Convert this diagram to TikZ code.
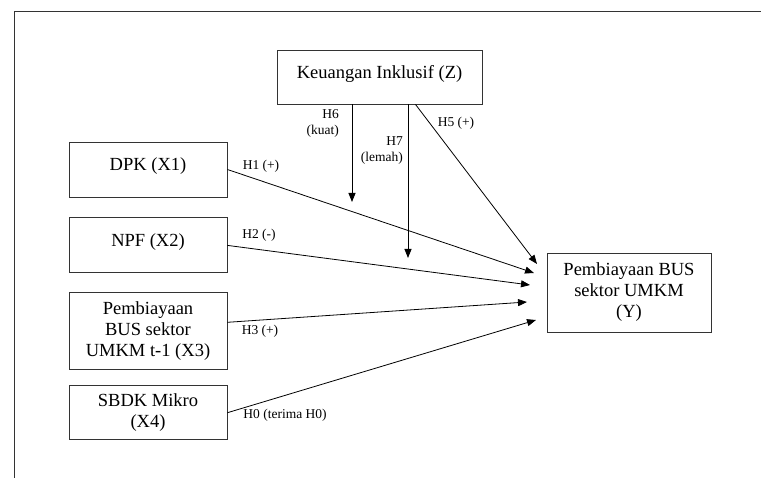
\documentclass[tikz,border=0pt]{standalone}
\usepackage{fontspec}
\setmainfont{Liberation Serif}
\usetikzlibrary{arrows.meta, positioning, calc}

\begin{document}
\begin{tikzpicture}[
  x=1pt, y=-1pt,
  varbox/.style={rectangle, draw=black!80, line width=0.9pt,
                 minimum width=158pt, minimum height=55pt,
                 align=center, font=\fontsize{18.5}{21}\selectfont},
  oneline/.style={text depth=10pt},
  hyp/.style={font=\fontsize{13.5}{16}\selectfont, inner sep=0pt},
  arr/.style={-{Triangle[length=9pt, width=7pt]}, line width=0.8pt}
]
\useasboundingbox (0,0) rectangle (761,478);
\draw[line width=1pt, black!80] (761,12) -- (14,12) -- (14,478);

\node[varbox, oneline, minimum width=205pt, minimum height=54pt] (z) at (379.5,77) {Keuangan Inklusif (Z)};
\node[varbox, oneline] (dpk) at (148,169.5) {DPK (X1)};
\node[varbox, oneline, below=20pt of dpk] (npf) {NPF (X2)};
\node[varbox, minimum height=77pt, below=19pt of npf] (x3) {Pembiayaan\\BUS sektor\\UMKM t-1 (X3)};
\node[varbox, minimum height=54pt, below=15pt of x3] (x4) {SBDK Mikro\\(X4)};
\node[varbox, minimum width=164pt, minimum height=79pt] (y) at (629,292.5) {Pembiayaan BUS\\sektor UMKM\\(Y)};

\coordinate (e5) at (537,264);
\coordinate (e1) at (534,273);
\coordinate (e2) at (530,285);
\coordinate (e3) at (527,302);
\coordinate (e0) at (536,320);
\coordinate (e6) at (352,202);
\coordinate (e7) at (408,258);

\foreach \a/\b in {dpk/e1, npf/e2, x4/e0}
  \draw[arr] (\a.east) -- (\b);
\draw[arr] ($(x3.east)+(0,-9)$) -- (e3);
\foreach \c in {e6, e7}
  \draw[arr] (\c |- z.south) -- (\c);
\draw[arr] ($(z.south)+(36,0)$) -- (e5);

\node[hyp] (h1) at (261,166) {H1 (+)};
\node[hyp] (h2) at (259,235) {H2 (-)};
\node[hyp] (h3) at (260,331) {H3 (+)};
\node[hyp] (h0) at (285,415) {H0 (terima H0)};
\node[hyp, align=right, anchor=east] (h6) at (339,123) {H6\\(kuat)};
\node[hyp, align=right, anchor=east] (h7) at (403,151) {H7\\(lemah)};
\node[hyp] (h5) at (456,123) {H5 (+)};
\end{tikzpicture}
\end{document}
